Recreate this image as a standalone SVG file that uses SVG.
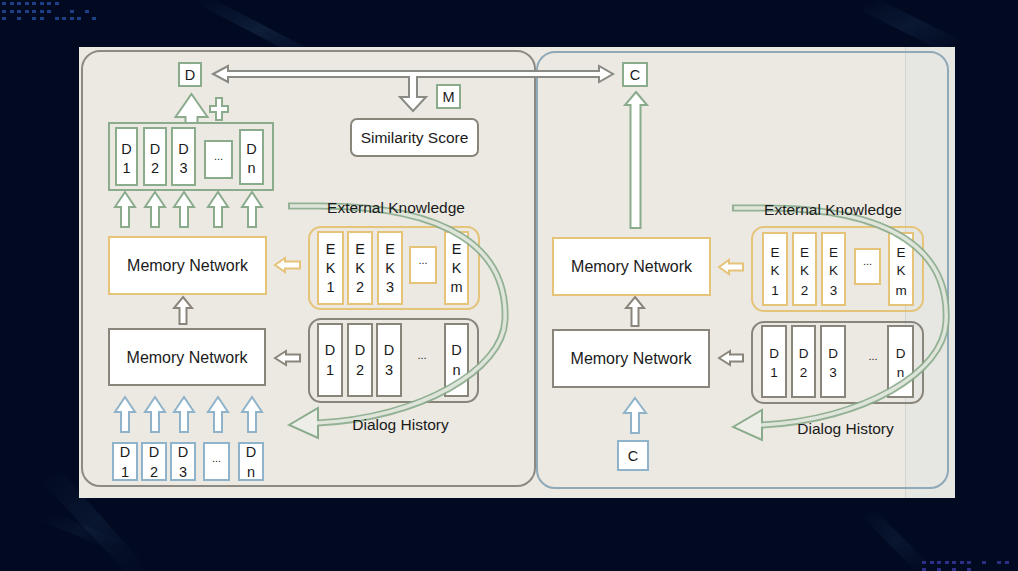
<svg xmlns="http://www.w3.org/2000/svg" width="1018" height="571" viewBox="0 0 1018 571">
<defs>
<linearGradient id="streak" x1="0" y1="0" x2="1" y2="1">
<stop offset="0" stop-color="#1c3a5c" stop-opacity="0"/>
<stop offset="0.5" stop-color="#2a4c6c" stop-opacity="0.3"/>
<stop offset="1" stop-color="#1c3a5c" stop-opacity="0"/>
</linearGradient>
<style>
text{font-family:"Liberation Sans",Arial,sans-serif;fill:#1a1a1a;text-anchor:middle}
.lbl{font-size:15.5px}
.mn{font-size:16px}
.bx{font-size:14.5px}
.bxs{font-size:13.5px}
.dots{font-size:11px}
.wh{fill:#ffffff}
.g{stroke:#8aab8c;stroke-width:2}
.y{stroke:#e5c47a;stroke-width:2}
.k{stroke:#8a857b;stroke-width:2}
.b{stroke:#8fb3ca;stroke-width:2}
.dot1{fill:#1d3f86}
.dot2{fill:#2b2f86}
</style>
</defs>
<rect width="1018" height="571" fill="#020a22"/>
<g id="background-decor">
<polygon points="190,0 215,0 330,60 305,60" fill="url(#streak)"/>
<polygon points="40,480 60,470 150,571 125,571" fill="url(#streak)" opacity="0.6"/>
<polygon points="860,10 880,0 960,40 940,50" fill="url(#streak)" opacity="0.7"/>
<polygon points="40,520 60,515 120,540 100,546" fill="url(#streak)" opacity="0.4"/>
<polygon points="860,515 875,510 930,565 915,570" fill="url(#streak)" opacity="0.6"/>
<g class="dot1">
<rect x="2" y="2" width="4" height="3"/><rect x="10" y="2" width="4" height="3"/><rect x="17" y="2" width="4" height="3"/><rect x="25" y="2" width="4" height="3"/><rect x="32" y="2" width="4" height="3"/><rect x="40" y="2" width="4" height="3"/><rect x="47" y="2" width="4" height="3"/><rect x="55" y="2" width="4" height="3"/>
<rect x="2" y="10" width="4" height="3"/><rect x="10" y="10" width="4" height="3"/><rect x="17" y="10" width="4" height="3"/><rect x="25" y="10" width="4" height="3"/><rect x="32" y="10" width="4" height="3"/><rect x="40" y="10" width="4" height="3"/><rect x="47" y="10" width="4" height="3"/><rect x="70" y="10" width="4" height="3"/><rect x="85" y="10" width="4" height="3"/>
<rect x="2" y="17" width="4" height="3"/><rect x="17" y="17" width="4" height="3"/><rect x="32" y="17" width="4" height="3"/><rect x="40" y="17" width="4" height="3"/><rect x="55" y="17" width="4" height="3"/><rect x="62" y="17" width="4" height="3"/><rect x="70" y="17" width="4" height="3"/><rect x="77" y="17" width="4" height="3"/><rect x="92" y="17" width="4" height="3"/>
</g>
<g class="dot2">
<rect x="922" y="561" width="4" height="3"/><rect x="930" y="561" width="4" height="3"/><rect x="937" y="561" width="4" height="3"/><rect x="945" y="561" width="4" height="3"/><rect x="952" y="561" width="4" height="3"/><rect x="960" y="561" width="4" height="3"/><rect x="967" y="561" width="4" height="3"/><rect x="982" y="561" width="4" height="3"/><rect x="997" y="561" width="4" height="3"/><rect x="1005" y="561" width="4" height="3"/>
<rect x="922" y="568" width="4" height="3"/><rect x="937" y="568" width="4" height="3"/><rect x="952" y="568" width="4" height="3"/><rect x="967" y="568" width="4" height="3"/>
</g>
</g>
<g id="canvas">
<rect x="79" y="47" width="876" height="451" fill="#ece9e2"/>
<rect x="905" y="47" width="50" height="451" fill="#e6e6e3"/>
<line x1="905.5" y1="47" x2="905.5" y2="498" stroke="#d4d3cd" stroke-width="1"/>
</g>
<g id="panel-left"><rect x="82" y="51" width="453" height="435" rx="18" fill="none" stroke="#8c8a83" stroke-width="2"/></g>
<g id="panel-right"><rect x="537" y="52" width="411" height="436" rx="18" fill="none" stroke="#8fa9b8" stroke-width="2"/></g>

<g id="connectors">
<polygon class="wh" stroke="#8a8a84" stroke-width="2" stroke-linejoin="miter" points="213,74 228,66 228,71 599,71 599,66 613,74 599,82 599,77 417,77 417,97 426,97 413,111 400,97 409,97 409,77 228,77 228,82"/>
<polygon class="wh g" points="191.5,94 207.5,117 197.5,117 197.5,123 185.5,123 185.5,117 175.5,117"/>
<polygon class="wh g" points="216,98 222,98 222,106 228,106 228,112 222,112 222,120 216,120 216,112 210,112 210,106 216,106"/>
<polygon class="wh g" points="125,192 135,207 129,207 129,227 121,227 121,207 115,207"/>
<polygon class="wh g" points="155,192 165,207 159,207 159,227 151,227 151,207 145,207"/>
<polygon class="wh g" points="184,192 194,207 188,207 188,227 180,227 180,207 174,207"/>
<polygon class="wh g" points="218,192 228,207 222,207 222,227 214,227 214,207 208,207"/>
<polygon class="wh g" points="252,192 262,207 256,207 256,227 248,227 248,207 242,207"/>
<polygon class="wh y" points="275,265 285,258 285,261.5 300,261.5 300,268.5 285,268.5 285,272"/>
<polygon class="wh k" points="183,297 192,308 186.5,308 186.5,324 179.5,324 179.5,308 174,308"/>
<polygon class="wh k" points="275,358 286,351 286,354.5 300,354.5 300,361.5 286,361.5 286,365"/>
<polygon class="wh b" points="125,397 135,412 129,412 129,432 121,432 121,412 115,412"/>
<polygon class="wh b" points="155,397 165,412 159,412 159,432 151,432 151,412 145,412"/>
<polygon class="wh b" points="184,397 194,412 188,412 188,432 180,432 180,412 174,412"/>
<polygon class="wh b" points="218,397 228,412 222,412 222,432 214,432 214,412 208,412"/>
<polygon class="wh b" points="252,397 262,412 256,412 256,432 248,432 248,412 242,412"/>
<polygon class="wh g" points="636,92 647,105 640.5,105 640.5,228 630.5,228 630.5,105 625,105"/>
<polygon class="wh y" points="719,267 729,260 729,263.5 743,263.5 743,270.5 729,270.5 729,274"/>
<polygon class="wh k" points="635,297 644,308 638.5,308 638.5,326 631.5,326 631.5,308 626,308"/>
<polygon class="wh k" points="719,358 730,351 730,354.5 743,354.5 743,361.5 730,361.5 730,365"/>
<polygon class="wh b" points="635,398 646,413 639,413 639,433 631,433 631,413 624,413"/>
</g>

<g id="left-top-d"><rect class="wh g" x="179" y="63" width="22" height="23"/><text class="bx" x="190" y="79.5">D</text></g>
<g id="left-m"><rect class="wh g" x="437" y="85" width="23" height="23"/><text class="bx" x="448.5" y="101.5">M</text></g>
<g id="similarity-score"><rect class="wh k" x="351" y="119" width="127" height="37" rx="6"/><text class="lbl" x="414.5" y="143">Similarity Score</text></g>

<g id="left-output-dialog">
<rect x="109" y="123" width="164" height="67" fill="none" class="g"/>
<rect class="wh g" x="116" y="128" width="21" height="57"/><text class="bx" x="126.5" y="154">D</text><text class="bx" x="126.5" y="173">1</text>
<rect class="wh g" x="144" y="128" width="22" height="57"/><text class="bx" x="155" y="154">D</text><text class="bx" x="155" y="173">2</text>
<rect class="wh g" x="172" y="128" width="23" height="57"/><text class="bx" x="183.5" y="154">D</text><text class="bx" x="183.5" y="173">3</text>
<rect class="wh g" x="205" y="141" width="27" height="37"/><text class="dots" x="218.5" y="160">...</text>
<rect class="wh g" x="240" y="130" width="23" height="54"/><text class="bx" x="251.5" y="154">D</text><text class="bx" x="251.5" y="173">n</text>
</g>

<g id="left-memory-ek"><rect class="wh y" x="109" y="237" width="157" height="57"/><text class="mn" x="187.5" y="271">Memory Network</text></g>
<g id="left-memory-d"><rect class="wh k" x="109" y="329" width="156" height="56"/><text class="mn" x="187" y="363">Memory Network</text></g>

<g id="left-ek-group">
<rect x="309" y="227" width="170" height="82" rx="12" fill="none" class="y"/>
<rect class="wh y" x="318" y="232" width="25" height="72"/><text class="bx" x="330.5" y="254">E</text><text class="bx" x="330.5" y="273">K</text><text class="bx" x="330.5" y="292">1</text>
<rect class="wh y" x="348" y="232" width="24" height="72"/><text class="bx" x="360" y="254">E</text><text class="bx" x="360" y="273">K</text><text class="bx" x="360" y="292">2</text>
<rect class="wh y" x="378" y="232" width="24" height="72"/><text class="bx" x="390" y="254">E</text><text class="bx" x="390" y="273">K</text><text class="bx" x="390" y="292">3</text>
<rect class="wh y" x="410" y="247" width="26" height="36"/><text class="dots" x="423" y="264">...</text>
<rect class="wh y" x="445" y="232" width="23" height="72"/><text class="bx" x="456.5" y="254">E</text><text class="bx" x="456.5" y="273">K</text><text class="bx" x="456.5" y="292">m</text>
</g>

<g id="left-d-history">
<rect x="309" y="319" width="169" height="83" rx="12" fill="none" class="k"/>
<rect class="wh k" x="318" y="324" width="24" height="72"/><text class="bx" x="330" y="355">D</text><text class="bx" x="330" y="375">1</text>
<rect class="wh k" x="348" y="324" width="24" height="72"/><text class="bx" x="360" y="355">D</text><text class="bx" x="360" y="375">2</text>
<rect class="wh k" x="377" y="324" width="24" height="72"/><text class="bx" x="389" y="355">D</text><text class="bx" x="389" y="375">3</text>
<text class="dots" x="422" y="359">...</text>
<rect class="wh k" x="445" y="324" width="23" height="72"/><text class="bx" x="456.5" y="355">D</text><text class="bx" x="456.5" y="375">n</text>
</g>

<g id="left-input-dialog">
<rect class="wh b" x="113" y="443" width="24" height="37"/><text class="bx" x="125" y="457">D</text><text class="bx" x="125" y="477">1</text>
<rect class="wh b" x="142" y="443" width="24" height="37"/><text class="bx" x="154" y="457">D</text><text class="bx" x="154" y="477">2</text>
<rect class="wh b" x="171" y="443" width="24" height="37"/><text class="bx" x="183" y="457">D</text><text class="bx" x="183" y="477">3</text>
<rect class="wh b" x="204" y="443" width="25" height="37"/><text class="dots" x="216.5" y="462">...</text>
<rect class="wh b" x="239" y="443" width="24" height="37"/><text class="bx" x="251" y="457">D</text><text class="bx" x="251" y="477">n</text>
</g>

<g id="right-top-c"><rect class="wh g" x="623" y="63" width="24" height="23"/><text class="bx" x="635" y="79.5">C</text></g>
<g id="right-memory-ek"><rect class="wh y" x="553" y="238" width="157" height="57"/><text class="mn" x="631.5" y="272">Memory Network</text></g>
<g id="right-memory-d"><rect class="wh k" x="553" y="330" width="156" height="57"/><text class="mn" x="631" y="364">Memory Network</text></g>

<g id="right-ek-group">
<rect x="752" y="227" width="171" height="84" rx="12" fill="none" class="y"/>
<rect class="wh y" x="763" y="233" width="24" height="72"/><text class="bxs" x="775" y="257">E</text><text class="bxs" x="775" y="275">K</text><text class="bxs" x="775" y="295">1</text>
<rect class="wh y" x="793" y="233" width="23" height="72"/><text class="bxs" x="804.5" y="257">E</text><text class="bxs" x="804.5" y="275">K</text><text class="bxs" x="804.5" y="295">2</text>
<rect class="wh y" x="822" y="233" width="23" height="72"/><text class="bxs" x="833.5" y="257">E</text><text class="bxs" x="833.5" y="275">K</text><text class="bxs" x="833.5" y="295">3</text>
<rect class="wh y" x="855" y="249" width="25" height="35"/><text class="dots" x="867.5" y="265">...</text>
<rect class="wh y" x="889" y="233" width="24" height="72"/><text class="bxs" x="901" y="257">E</text><text class="bxs" x="901" y="275">K</text><text class="bxs" x="901" y="295">m</text>
</g>

<g id="right-d-history">
<rect x="752" y="322" width="171" height="81" rx="12" fill="none" class="k"/>
<rect class="wh k" x="762" y="326" width="24" height="71"/><text class="bxs" x="774" y="358">D</text><text class="bxs" x="774" y="377">1</text>
<rect class="wh k" x="792" y="326" width="23" height="71"/><text class="bxs" x="803.5" y="358">D</text><text class="bxs" x="803.5" y="377">2</text>
<rect class="wh k" x="821" y="326" width="24" height="71"/><text class="bxs" x="833" y="358">D</text><text class="bxs" x="833" y="377">3</text>
<text class="dots" x="873" y="360">...</text>
<rect class="wh k" x="888" y="326" width="25" height="71"/><text class="bxs" x="900.5" y="358">D</text><text class="bxs" x="900.5" y="377">n</text>
</g>

<g id="right-bottom-c"><rect class="wh b" x="618" y="441" width="30" height="29"/><text class="bx" x="633" y="461">C</text></g>

<g id="curve-arrows">
<g id="curve-left">
<polygon points="289,425 318,408 318,438" fill="#eef0ea" fill-opacity="0.7" stroke="#8aab8c" stroke-width="2"/>
<path d="M288 206 L320 206 C450 206 508 250 505 320 C503 370 420 418 318 423" fill="none" stroke="#8aab8c" stroke-width="7" stroke-opacity="0.9"/>
<path d="M290 206 L320 206 C450 206 508 250 505 320 C503 370 420 418 316 423" fill="none" stroke="#eceee8" stroke-width="3.5" stroke-opacity="0.85"/>
</g>
<g id="curve-right" transform="translate(444,2)">
<polygon points="289,425 318,408 318,438" fill="#eef0ea" fill-opacity="0.7" stroke="#8aab8c" stroke-width="2"/>
<path d="M288 206 L320 206 C450 206 506 250 502 320 C500 370 420 418 318 423" fill="none" stroke="#8aab8c" stroke-width="7" stroke-opacity="0.9"/>
<path d="M290 206 L320 206 C450 206 506 250 502 320 C500 370 420 418 316 423" fill="none" stroke="#eceee8" stroke-width="3.5" stroke-opacity="0.85"/>
</g>
</g>

<g id="labels">
<text class="lbl" x="396" y="213">External Knowledge</text>
<text class="lbl" x="400.5" y="430">Dialog History</text>
<text class="lbl" x="833" y="215">External Knowledge</text>
<text class="lbl" x="845.5" y="434">Dialog History</text>
</g>
</svg>
